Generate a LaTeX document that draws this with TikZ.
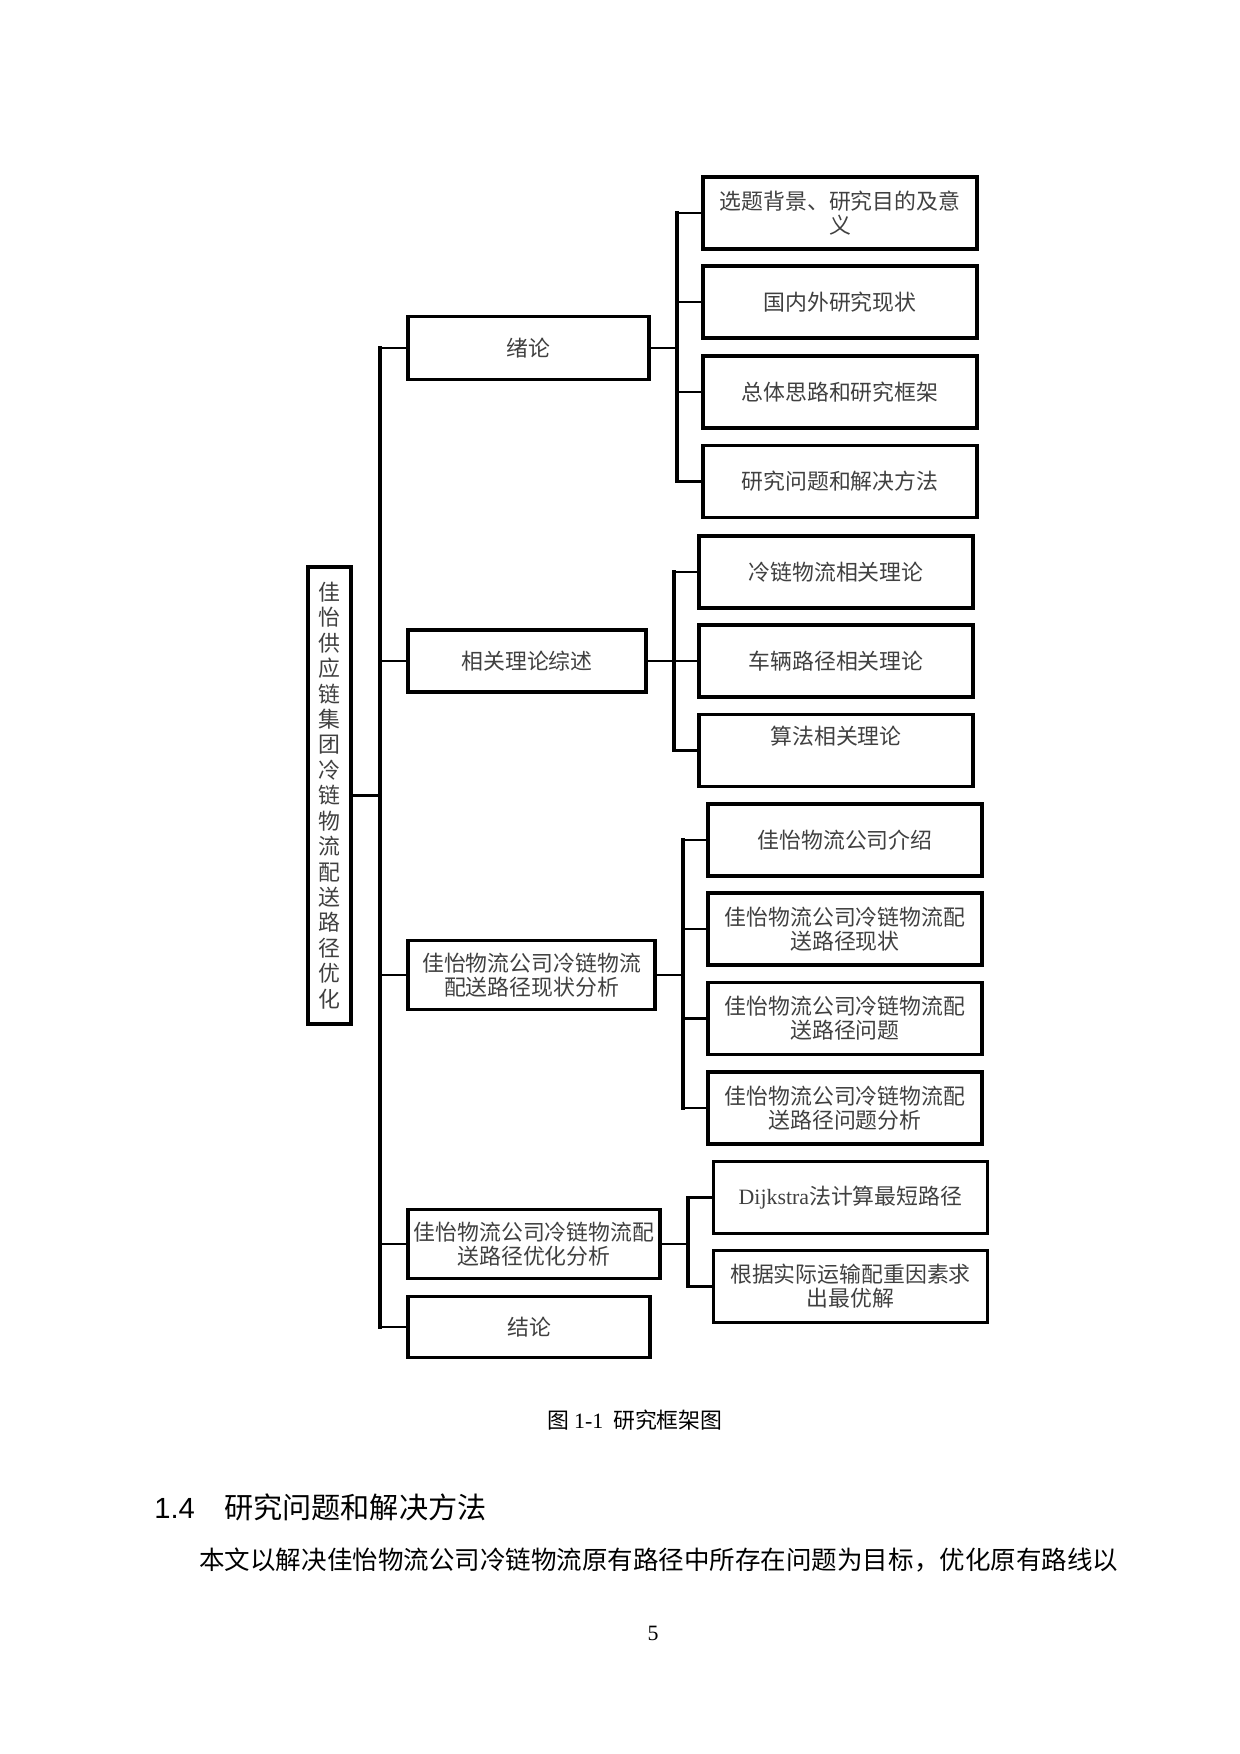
\documentclass[tikz,border=0pt]{standalone}
\usepackage{fontspec}
\setmainfont{Liberation Serif}
\newfontfamily\cjk{Noto Sans CJK SC}
\newfontfamily\headfont{Liberation Sans}
\tikzset{
  box/.style={draw, line width=1.5pt, align=center, text=black!75, inner sep=1pt,
    font=\cjk\fontsize{10.5}{11.5}\selectfont},
  leaf/.style={box, minimum width=131.5pt, minimum height=34.6pt},
  link/.style={line width=1.3pt},
  bar/.style={line width=1.9pt, line cap=rect}
}
\begin{document}
\begin{tikzpicture}[x=0.48pt,y=-0.48pt]
  \useasboundingbox (0,0) rectangle (1240,1754);

  % root
  \node[box, minimum width=20.6pt, minimum height=219.4pt,
        font=\cjk\fontsize{10.5}{12.2}\selectfont] (root) at (329.5,795.5)
    {佳\\怡\\供\\应\\链\\集\\团\\冷\\链\\物\\流\\配\\送\\路\\径\\优\\化};

  % chapters
  \node[box, minimum width=115.7pt, minimum height=30.2pt] (xulun) at (528.5,348) {绪论};
  \node[box, minimum width=114.2pt, minimum height=29.8pt] (lilun) at (527,661) {相关理论综述};
  \node[box, minimum width=118.6pt, minimum height=33.1pt] (xianzhuang) at (531.5,975)
    {佳怡物流公司冷链物流\\配送路径现状分析};
  \node[box, minimum width=121pt, minimum height=33.1pt] (youhua) at (534,1244)
    {佳怡物流公司冷链物流配\\送路径优化分析};
  \node[box, minimum width=116.2pt, minimum height=29.3pt] (jielun) at (529,1327) {结论};

  % sections
  \node[leaf] (bj) at (840,213) {选题背景、研究目的及意\\义};
  \node[leaf] (xz) at (840,302) {国内外研究现状};
  \node[leaf] (kj) at (840,392) {总体思路和研究框架};
  \node[leaf] (ff) at (840,481.5) {研究问题和解决方法};

  \node[leaf] (lll) at (836,572) {冷链物流相关理论};
  \node[leaf] (cll) at (836,661) {车辆路径相关理论};
  \node[leaf] (sfl) at (836,750.5) {算法相关理论\\[3pt]\mbox{}};

  \node[leaf] (js) at (845,840) {佳怡物流公司介绍};
  \node[leaf] (xzk) at (845,929) {佳怡物流公司冷链物流配\\送路径现状};
  \node[leaf] (wt) at (845,1018.5) {佳怡物流公司冷链物流配\\送路径问题};
  \node[leaf] (wtfx) at (845,1108) {佳怡物流公司冷链物流配\\送路径问题分析};

  \node[leaf] (dij) at (850.5,1197.5) {{\rmfamily Dijkstra}法计算最短路径};
  \node[leaf] (zyj) at (850.5,1286.5) {根据实际运输配重因素求\\出最优解};

  % buses
  \coordinate (t) at (380,0);
  \coordinate (b1) at (677,0);
  \coordinate (b2) at (674,0);
  \coordinate (b3) at (683,0);
  \coordinate (b4) at (688,0);

  \draw[bar] (t |- xulun.west) -- (t |- jielun.west);
  \draw[bar] (b1 |- bj.west) -- (b1 |- ff.west);
  \draw[bar] (b2 |- lll.west) -- (b2 |- sfl.west);
  \draw[bar] (b3 |- js.west) -- (b3 |- wtfx.west);
  \draw[bar] (b4 |- dij.west) -- (b4 |- zyj.west);

  \draw[link] (root.east) -- (root.east -| t);
  \foreach \n in {xulun,lilun,xianzhuang,youhua,jielun}
    \draw[link] (t |- \n.west) -- (\n.west);
  \draw[link] (xulun.east) -- (xulun.east -| b1);
  \foreach \n in {bj,xz,kj,ff}
    \draw[link] (b1 |- \n.west) -- (\n.west);
  \draw[link] (lilun.east) -- (lilun.east -| b2);
  \foreach \n in {lll,cll,sfl}
    \draw[link] (b2 |- \n.west) -- (\n.west);
  \draw[link] (xianzhuang.east) -- (xianzhuang.east -| b3);
  \foreach \n in {js,xzk,wt,wtfx}
    \draw[link] (b3 |- \n.west) -- (\n.west);
  \draw[link] (youhua.east) -- (youhua.east -| b4);
  \foreach \n in {dij,zyj}
    \draw[link] (b4 |- \n.west) -- (\n.west);

  % page text
  \node[font=\cjk\fontsize{10.5}{12}\selectfont] (cap) at (635,1420)
    {图 {\rmfamily 1-1}\ \ 研究框架图};
  \node[anchor=west, font=\cjk\fontsize{14}{16}\selectfont] (sec) at (147,1507)
    {{\headfont 1.4}\hspace{14pt}研究问题和解决方法};
  \node[anchor=west, inner sep=0pt, font=\cjk\fontsize{12.25}{14}\selectfont] (par) at (199,1560)
    {本文以解决佳怡物流公司冷链物流原有路径中所存在问题为目标，优化原有路线以};
  \node[font=\rmfamily\fontsize{10.5}{12}\selectfont] (pg) at (653,1633) {5};
\end{tikzpicture}
\end{document}
